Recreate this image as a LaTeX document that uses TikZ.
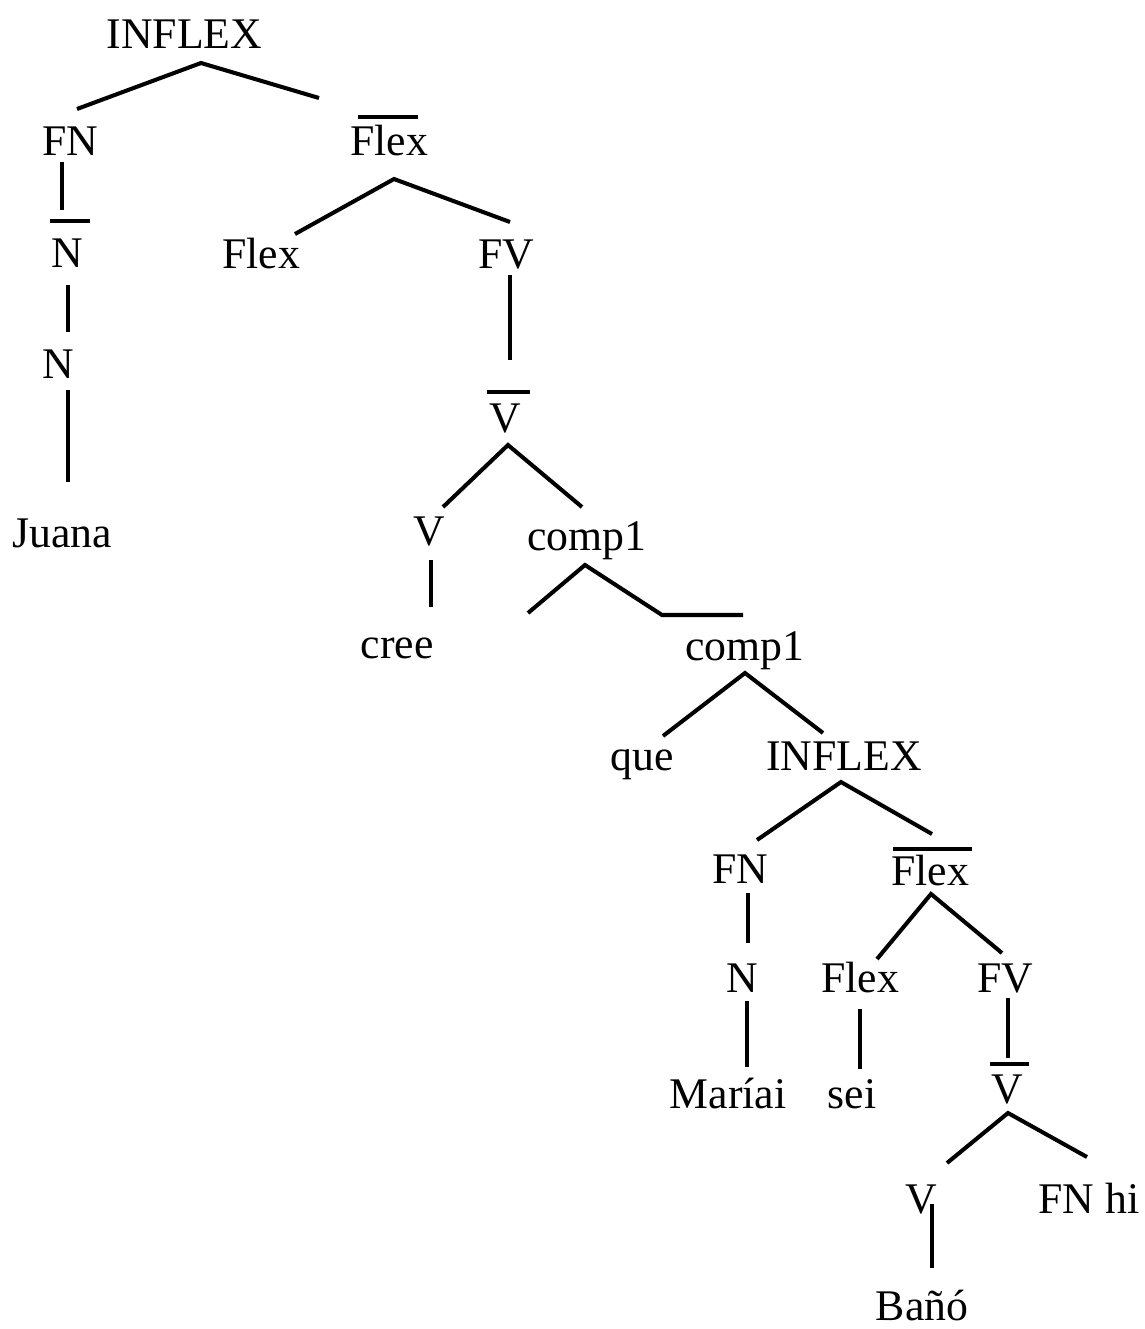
\documentclass[tikz,border=0pt]{standalone}
\usepackage{fontspec}
\setmainfont{Liberation Serif}
\usetikzlibrary{calc}

% offset (dx,dy) from the baseline point of a node
\newcommand\relpt[3]{($(#1.base)+(#2,#3)$)}

\begin{document}
\begin{tikzpicture}[x=0.02cm, y=-0.02cm,
  lbl/.style={anchor=base, inner sep=0pt, font=\fontsize{24.9}{29}\selectfont},
  edge/.style={line width=2.3pt, line join=miter},
  barline/.style={line width=2.1pt}]
\useasboundingbox (0,0) rectangle (1144,1329);

% labels, placed by their baseline centre
\node[lbl] (INF1) at (184.5,48)  {INFLEX};
\node[lbl] (FN1)  at (70,155)    {FN};
\node[lbl] (FLB1) at (389,155)   {Flex};
\node[lbl] (NB)   at (67,267)    {N};
\node[lbl] (FLX1) at (261,268)   {Flex};
\node[lbl] (FV1)  at (506,268)   {FV};
\node[lbl] (N1)   at (58,378)    {N};
\node[lbl] (VB1)  at (505,432)   {V};
\node[lbl] (JUA)  at (62,547)    {Juana};
\node[lbl] (V1)   at (429,545)   {V};
\node[lbl] (CMP1) at (587,550)   {comp1};
\node[lbl] (CREE) at (397,658)   {cree};
\node[lbl] (CMP2) at (745,660)   {comp1};
\node[lbl] (QUE)  at (642,770)   {que};
\node[lbl] (INF2) at (844,770)   {INFLEX};
\node[lbl] (FN2)  at (740,883)   {FN};
\node[lbl] (FLB2) at (930,885)   {Flex};
\node[lbl] (N2)   at (742,992)   {N};
\node[lbl] (FLX2) at (860,992)   {Flex};
\node[lbl] (FV2)  at (1005,992)  {FV};
\node[lbl] (MAR)  at (728,1108)  {Maríai};
\node[lbl] (SEI)  at (852,1108)  {sei};
\node[lbl] (VB2)  at (1007,1103) {V};
\node[lbl] (V3)   at (921,1213)  {V};
\node[lbl] (FNH)  at (1089,1213) {FN hi};
\node[lbl] (BAN)  at (922,1320)  {Bañó};

% bars over the bar-level categories
\draw[barline] \relpt{FLB1}{-31}{-38} -- \relpt{FLB1}{29}{-38};
\draw[barline] \relpt{NB}{-17}{-46}   -- \relpt{NB}{23}{-46};
\draw[barline] \relpt{VB1}{-18}{-40}  -- \relpt{VB1}{25}{-40};
\draw[barline] \relpt{FLB2}{-37}{-36} -- \relpt{FLB2}{42}{-36};
\draw[barline] \relpt{VB2}{-17}{-39}  -- \relpt{VB2}{22}{-39};

% branches
\draw[edge] \relpt{FN1}{7}{-46} -- \relpt{INF1}{16.5}{15} -- \relpt{FLB1}{-70}{-57};
\draw[edge] \relpt{FN1}{-8}{7} -- \relpt{NB}{-5}{-57};
\draw[edge] \relpt{NB}{1}{18} -- \relpt{N1}{10}{-46};
\draw[edge] \relpt{N1}{10}{12} -- \relpt{JUA}{6}{-65};
\draw[edge] \relpt{FLX1}{34}{-34} -- \relpt{FLB1}{5}{24} -- \relpt{FV1}{4}{-46};
\draw[edge] \relpt{FV1}{4}{7} -- \relpt{VB1}{5}{-72};
\draw[edge] \relpt{V1}{14}{-38} -- \relpt{VB1}{3}{13} -- \relpt{CMP1}{-5}{-43};
\draw[edge] \relpt{V1}{2}{15} -- \relpt{CREE}{34}{-51};
\path ($(CMP1.base)+(-59,63)$) coordinate (CMP1left);
\draw[edge] (CMP1left) -- \relpt{CMP1}{-2}{15} -- \relpt{CMP1}{75}{65} -- \relpt{CMP2}{-2}{-45};
\draw[edge] \relpt{QUE}{21}{-34} -- \relpt{CMP2}{0}{13} -- \relpt{INF2}{-21}{-37};
\draw[edge] \relpt{FN2}{17}{-43} -- \relpt{INF2}{-3}{12} -- \relpt{FLB2}{2}{-51};
\draw[edge] \relpt{FN2}{8}{10} -- \relpt{N2}{6}{-49};
\draw[edge] \relpt{FLX2}{17}{-33} -- \relpt{FLB2}{1}{9} -- \relpt{FV2}{-3}{-39};
\draw[edge] \relpt{N2}{5}{9} -- \relpt{MAR}{19}{-41};
\draw[edge] \relpt{FLX2}{0}{17} -- \relpt{SEI}{8}{-39};
\draw[edge] \relpt{FV2}{3}{6} -- \relpt{VB2}{1}{-45};
\draw[edge] \relpt{V3}{26}{-50} -- \relpt{VB2}{1}{10} -- \relpt{FNH}{-2}{-56};
\draw[edge] \relpt{V3}{11}{-9} -- \relpt{BAN}{10}{-52};
\end{tikzpicture}
\end{document}
